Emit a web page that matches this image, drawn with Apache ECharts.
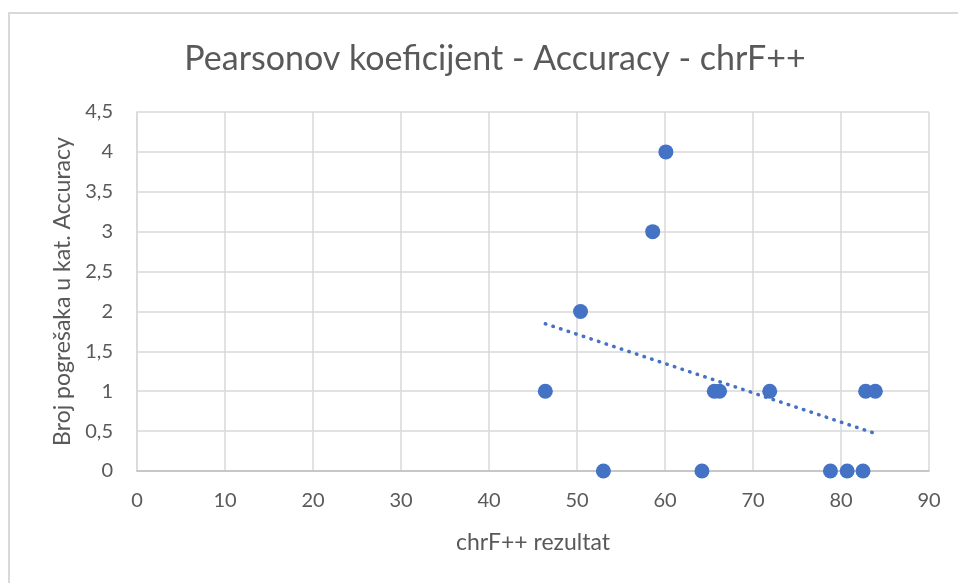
<!DOCTYPE html>
<html>
<head>
<meta charset="utf-8">
<script src="https://cdn.jsdelivr.net/npm/echarts@6/dist/echarts.min.js"></script>
<style>
  html, body { margin: 0; padding: 0; background: #ffffff; }
  #chart { width: 958px; height: 583px; }
</style>
</head>
<body>
<div id="chart"></div>
<script>
// chrF++ score for each translation and the number of Accuracy errors
const chrfScores = [46.4, 50.4, 53.0, 58.6, 60.1, 64.2, 65.6, 66.2, 71.9, 78.8, 80.7, 82.5, 82.8, 83.9];
const accuracyErrors = [1, 2, 0, 3, 4, 0, 1, 1, 1, 0, 0, 0, 1, 1];

const xTicks = { min: 0, max: 90, interval: 10 };
const yTicks = { min: 0, max: 4.5, interval: 0.5 };

const titleText = 'Pearsonov koeficijent - Accuracy - chrF++';
const xAxisName = 'chrF++ rezultat';
const yAxisName = 'Broj pogrešaka u kat. Accuracy';

// least-squares linear trend over the points
function linearTrend(xs, ys) {
  const n = xs.length;
  const mx = xs.reduce((a, b) => a + b, 0) / n;
  const my = ys.reduce((a, b) => a + b, 0) / n;
  let sxy = 0, sxx = 0;
  for (let i = 0; i < n; i++) {
    sxy += (xs[i] - mx) * (ys[i] - my);
    sxx += (xs[i] - mx) * (xs[i] - mx);
  }
  const slope = sxy / sxx;
  const x0 = Math.min(...xs), x1 = Math.max(...xs);
  return [[x0, my + slope * (x0 - mx)], [x1, my + slope * (x1 - mx)]];
}

const points = chrfScores.map((x, i) => [x, accuracyErrors[i]]);
const trend = linearTrend(chrfScores, accuracyErrors);

const FONT = 'Lato, "Open Sans", sans-serif';
const TEXT = '#595959';
const GRID = '#d9d9d9';
const BLUE = '#4472c4';

const chart = echarts.init(document.getElementById('chart'), null, { renderer: 'canvas' });
chart.setOption({
  animation: false,
  backgroundColor: '#ffffff',
  graphic: [{
    type: 'rect',
    shape: { x: 9, y: 13, width: 1000, height: 700 },
    style: { fill: 'none', stroke: GRID, lineWidth: 2 },
    silent: true,
    z: -1
  }],
  title: {
    text: titleText,
    left: 490,
    top: 37,
    textAlign: 'center',
    textStyle: { fontFamily: FONT, fontSize: 34, fontWeight: 'normal', color: TEXT }
  },
  grid: { left: 137, top: 112, width: 792, height: 359, containLabel: false },
  xAxis: {
    type: 'value',
    min: xTicks.min, max: xTicks.max, interval: xTicks.interval,
    name: xAxisName,
    nameLocation: 'middle',
    nameGap: 60,
    nameTextStyle: { fontFamily: FONT, fontSize: 23, color: TEXT },
    axisLine: { show: true, lineStyle: { color: '#bfbfbf', width: 1.5 } },
    axisTick: { show: false },
    axisLabel: { fontFamily: FONT, fontSize: 20, color: TEXT, margin: 20 },
    splitLine: { show: true, lineStyle: { color: GRID, width: 1.5 } }
  },
  yAxis: {
    type: 'value',
    min: yTicks.min, max: yTicks.max, interval: yTicks.interval,
    name: yAxisName,
    nameLocation: 'middle',
    nameGap: 62,
    nameRotate: 90,
    nameTextStyle: { fontFamily: FONT, fontSize: 23, color: TEXT },
    axisLine: { show: true, lineStyle: { color: GRID, width: 1.5 } },
    axisTick: { show: false },
    axisLabel: {
      fontFamily: FONT, fontSize: 20, color: TEXT, margin: 24,
      formatter: v => String(v).replace('.', ',')
    },
    splitLine: { show: true, lineStyle: { color: GRID, width: 1.5 } }
  },
  series: [
    {
      type: 'line',
      data: trend,
      symbol: 'none',
      silent: true,
      lineStyle: { color: BLUE, width: 3.5, type: [0.5, 7.5], cap: 'round' },
      z: 3
    },
    {
      type: 'scatter',
      data: points,
      symbol: 'circle',
      symbolSize: 15,
      itemStyle: { color: BLUE, opacity: 1 },
      z: 4
    }
  ]
});
</script>
</body>
</html>
